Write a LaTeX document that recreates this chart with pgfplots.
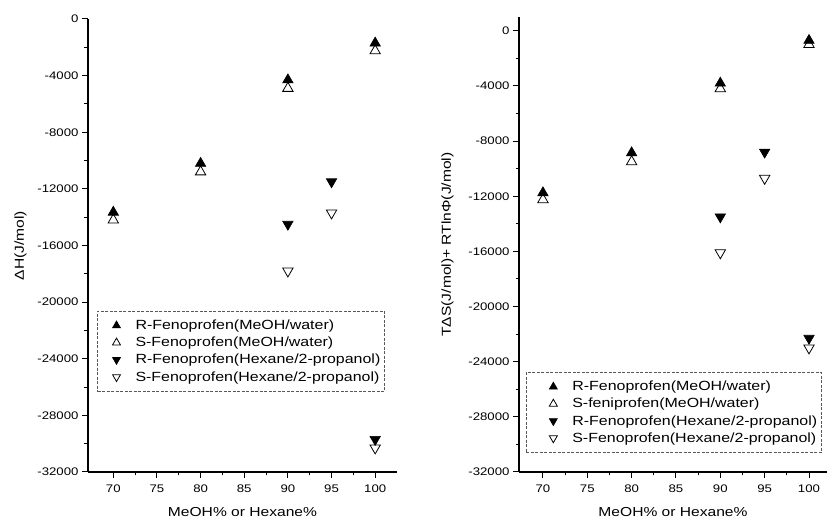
\documentclass[border=0pt]{standalone}
\usepackage{fontspec}
\setmainfont{Liberation Sans}[FakeStretch=1.2]
\usepackage{pgfplots}
\pgfplotsset{compat=1.18}

\pgfplotsset{
  panel/.style={
    scale only axis,
    axis x line*=bottom, axis y line*=left,
    axis line style={-, line width=1.1pt},
    xtick={70,75,...,100}, minor x tick num=1,
    ytick={-32000,-28000,...,0}, minor y tick num=1,
    tick align=outside, major tick length=6pt, minor tick length=3.5pt,
    every tick/.style={line width=1pt, black},
    scaled y ticks=false,
    /pgf/number format/assume math mode=true,
    /pgf/number format/1000 sep={},
    xticklabel style={font=\fontsize{11}{13}\selectfont, yshift=-3pt},
    yticklabel style={font=\fontsize{11}{13}\selectfont},
    xlabel style={font=\fontsize{13}{15}\selectfont, yshift=-8pt},
    ylabel style={font=\fontsize{13}{15}\selectfont},
    ymin=-32000,
    xlabel={MeOH\% or Hexane\%},
    legend cell align=left,
    legend style={font=\fontsize{13.3}{15}\selectfont, draw=black!65,
      line width=0.5pt, dash pattern=on 3pt off 1.5pt, anchor=north west,
      row sep=2pt, inner xsep=2pt, inner ysep=7pt,
      /tikz/every even column/.append style={column sep=22pt}},
  },
  limg/.style 2 args={legend image code/.code={
      \path[draw=none, fill=none] (0pt,0pt) -- (#2,0pt);
      \draw[only marks, mark size=4.6pt] plot coordinates {(#1,0pt)};}},
  rup/.style={only marks, mark=triangle*, mark size=6pt,
    mark options={solid, fill=black, draw=black, line width=0.6pt}},
  sup/.style={only marks, mark=triangle, mark size=6pt,
    mark options={solid, fill=white, draw=black, line width=0.8pt}},
  rdn/.style={only marks, mark=triangle*, mark size=6pt,
    mark options={solid, rotate=180, fill=black, draw=black, line width=0.6pt}},
  sdn/.style={only marks, mark=triangle, mark size=6pt,
    mark options={solid, rotate=180, fill=white, draw=black, line width=0.8pt}},
}

\begin{document}
\begin{tikzpicture}
  \useasboundingbox (0,0) rectangle (827pt,519pt);

  % left panel: enthalpy
  \begin{axis}[panel,
    at={(88pt,47pt)}, anchor=south west, width=309pt, height=453pt,
    xmin=67.1, xmax=102.5, ymax=0,
    ylabel={ΔH(J/mol)},
    ylabel style={yshift=4pt},
    legend style={at={(0.030,0.356)}},
    limg={17pt}{34pt},
  ]
    \addplot[rup] coordinates {(70,-13650) (80,-10200) (90,-4300) (100,-1700)};
    \addplot[sup] coordinates {(70,-14200) (80,-10800) (90,-4900) (100,-2250)};
    \addplot[rdn] coordinates {(90,-14500) (95,-11500) (100,-29700)};
    \addplot[sdn] coordinates {(90,-17800) (95,-13700) (100,-30300)};
    \legend{R-Fenoprofen(MeOH/water),S-Fenoprofen(MeOH/water),
      R-Fenoprofen(Hexane/2-propanol),S-Fenoprofen(Hexane/2-propanol)}
  \end{axis}

  % right panel: entropy term
  \begin{axis}[panel,
    at={(519pt,47pt)}, anchor=south west, width=308pt, height=455pt,
    xmin=67.3, xmax=102.03, ymax=1000,
    ylabel={TΔS(J/mol)+ RTlnΦ(J/mol)},
    ylabel style={yshift=8pt},
    legend style={at={(0.023,0.22)}},
    limg={25pt}{42pt},
  ]
    \addplot[rup] coordinates {(70,-11750) (80,-8850) (90,-3800) (100,-700)};
    \addplot[sup] coordinates {(70,-12250) (80,-9500) (90,-4200) (100,-1000)};
    \addplot[rdn] coordinates {(90,-13500) (95,-8800) (100,-22300)};
    \addplot[sdn] coordinates {(90,-16100) (95,-10700) (100,-23000)};
    \legend{R-Fenoprofen(MeOH/water),S-feniprofen(MeOH/water),
      R-Fenoprofen(Hexane/2-propanol),S-Fenoprofen(Hexane/2-propanol)}
  \end{axis}
\end{tikzpicture}
\end{document}
